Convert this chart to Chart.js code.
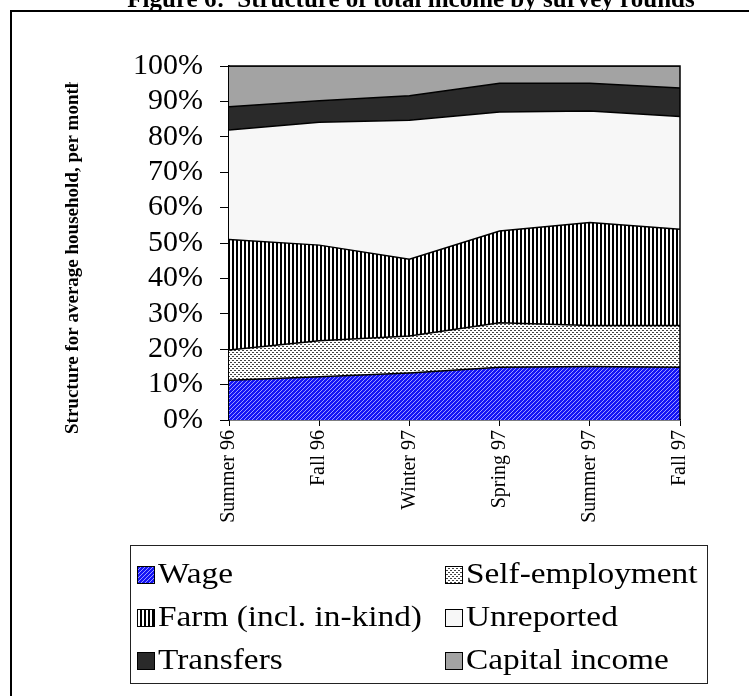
<!DOCTYPE html>
<html>
<head>
<meta charset="utf-8">
<script src="https://cdn.jsdelivr.net/npm/chart.js@4.4.1/dist/chart.umd.min.js"></script>
<style>
html, body { margin: 0; padding: 0; background: #fff; }
#grafico { display: block; }
</style>
</head>
<body>
<canvas id="grafico" width="749" height="696"></canvas>
<script>
// dados (% da renda total)
const rounds = ['Summer 96', 'Fall 96', 'Winter 97', 'Spring 97', 'Summer 97', 'Fall 97'];
const wage = [11.2, 12.2, 13.3, 14.9, 15.1, 14.9];
const selfEmployment = [8.6, 10.2, 10.4, 12.6, 11.6, 11.8];
const farm = [31.2, 27.0, 21.7, 25.9, 29.1, 27.2];
const unreported = [30.9, 34.7, 39.3, 33.6, 31.5, 31.8];
const transfers = [6.6, 6.1, 6.9, 8.1, 7.8, 8.1];
const capitalIncome = [11.5, 9.8, 8.4, 4.9, 4.9, 6.2];
const seriesNames = ['Wage', 'Self-employment', 'Farm (incl. in-kind)', 'Unreported', 'Transfers', 'Capital income'];

const titleText = 'Figure 6:  Structure of total income by survey rounds';
const yTitle = 'Structure for average household, per month';
const serif = '"Liberation Serif", "Times New Roman", serif';

function makePattern(w, h, draw) {
    const c = document.createElement('canvas');
    c.width = w;
    c.height = h;
    const g = c.getContext('2d');
    draw(g);
    return g.createPattern(c, 'repeat');
}

const wageFill = makePattern(4, 4, g => {
    g.fillStyle = '#1414f5';
    g.fillRect(0, 0, 4, 4);
    g.fillStyle = '#9a9aff';
    g.fillRect(3, 0, 1, 1);
    g.fillRect(2, 1, 1, 1);
    g.fillRect(1, 2, 1, 1);
    g.fillRect(0, 3, 1, 1);
});
const selfFill = makePattern(4, 4, g => {
    g.fillStyle = '#ffffff';
    g.fillRect(0, 0, 4, 4);
    g.fillStyle = '#444';
    g.fillRect(0, 0, 2, 1);
    g.fillRect(2, 2, 2, 1);
});
const farmFill = makePattern(4, 4, g => {
    g.fillStyle = '#ffffff';
    g.fillRect(0, 0, 4, 4);
    g.fillStyle = '#000';
    g.fillRect(0, 0, 2, 4);
});

const fills = [wageFill, selfFill, farmFill, '#f7f7f7', '#2a2a2a', '#a3a3a3'];
const values = [wage, selfEmployment, farm, unreported, transfers, capitalIncome];

const moldura = {
    id: 'moldura',
    beforeDraw(chart) {
        const c = chart.ctx;
        c.save();
        c.fillStyle = '#fff';
        c.fillRect(0, 0, chart.width, chart.height);
        c.restore();
    },
    afterDraw(chart) {
        const c = chart.ctx;
        const a = chart.chartArea;
        c.save();
        // borda da area do grafico
        c.strokeStyle = '#000';
        c.lineWidth = 1.5;
        c.beginPath();
        c.moveTo(a.left, a.top);
        c.lineTo(a.right, a.top);
        c.lineTo(a.right, a.bottom);
        c.stroke();

        // moldura externa
        c.lineWidth = 2;
        c.beginPath();
        c.moveTo(11, 696);
        c.lineTo(11, 11);
        c.lineTo(749, 11);
        c.stroke();

        // titulo (cortado no topo)
        c.fillStyle = '#000';
        c.font = 'bold 25px ' + serif;
        c.textAlign = 'center';
        c.textBaseline = 'alphabetic';
        c.fillText(titleText, 411, 7);

        // titulo do eixo y
        c.save();
        c.beginPath();
        c.rect(0, 82, 200, 400);
        c.clip();
        c.translate(73, 434);
        c.rotate(-Math.PI / 2);
        c.font = 'bold 19px ' + serif;
        c.textAlign = 'left';
        c.textBaseline = 'middle';
        c.fillText(yTitle, 0, 0);
        c.restore();

        // legenda
        c.lineWidth = 1;
        c.strokeStyle = '#222';
        c.strokeRect(130.5, 545.5, 577, 138);
        c.font = '28.5px ' + serif;
        c.textAlign = 'left';
        c.textBaseline = 'middle';
        chart.data.datasets.forEach((ds, i) => {
            const col = i % 2;
            const row = Math.floor(i / 2);
            const x = col === 0 ? 137 : 445;
            const y = 575 + row * 43;
            c.fillStyle = ds.backgroundColor;
            c.fillRect(x, y - 9, 18, 18);
            c.strokeStyle = '#000';
            c.strokeRect(x + 0.5, y - 8.5, 17, 17);
            c.fillStyle = '#000';
            c.save();
            c.translate(x + 21, y + 1);
            c.scale(1.17, 1);
            c.fillText(ds.label, 0, 0);
            c.restore();
        });
        c.restore();
    }
};

const ctx = document.getElementById('grafico').getContext('2d');

const grafico = new Chart(ctx, {
    type: 'line',
    data: {
        labels: rounds,
        datasets: values.map((v, i) => ({
            label: seriesNames[i],
            data: v,
            backgroundColor: fills[i],
            borderColor: '#000',
            borderWidth: 1.5,
            pointRadius: 0,
            tension: 0,
            fill: i === 0 ? 'origin' : '-1'
        }))
    },
    options: {
        responsive: false,
        animation: false,
        layout: { padding: { left: 0, top: 66, right: 69, bottom: 0 } },
        plugins: {
            legend: { display: false },
            title: { display: false },
            tooltip: { enabled: false }
        },
        scales: {
            x: {
                offset: false,
                grid: { drawOnChartArea: false, tickLength: 6, color: '#000' },
                border: { color: '#000', width: 1.5 },
                ticks: {
                    color: '#000',
                    font: { family: serif, size: 20 },
                    minRotation: 90,
                    maxRotation: 90,
                    autoSkip: false,
                    padding: 4
                },
                afterFit: s => { s.height = 276; }
            },
            y: {
                stacked: true,
                min: 0,
                max: 100,
                grid: { drawOnChartArea: false, tickLength: 9, color: '#000' },
                border: { color: '#000', width: 1.5 },
                ticks: {
                    stepSize: 10,
                    autoSkip: false,
                    color: '#000',
                    font: { family: serif, size: 30 },
                    padding: 17,
                    callback: v => v + '%'
                },
                afterFit: s => { s.width = 229; }
            }
        }
    },
    plugins: [moldura]
});
</script>
</body>
</html>
